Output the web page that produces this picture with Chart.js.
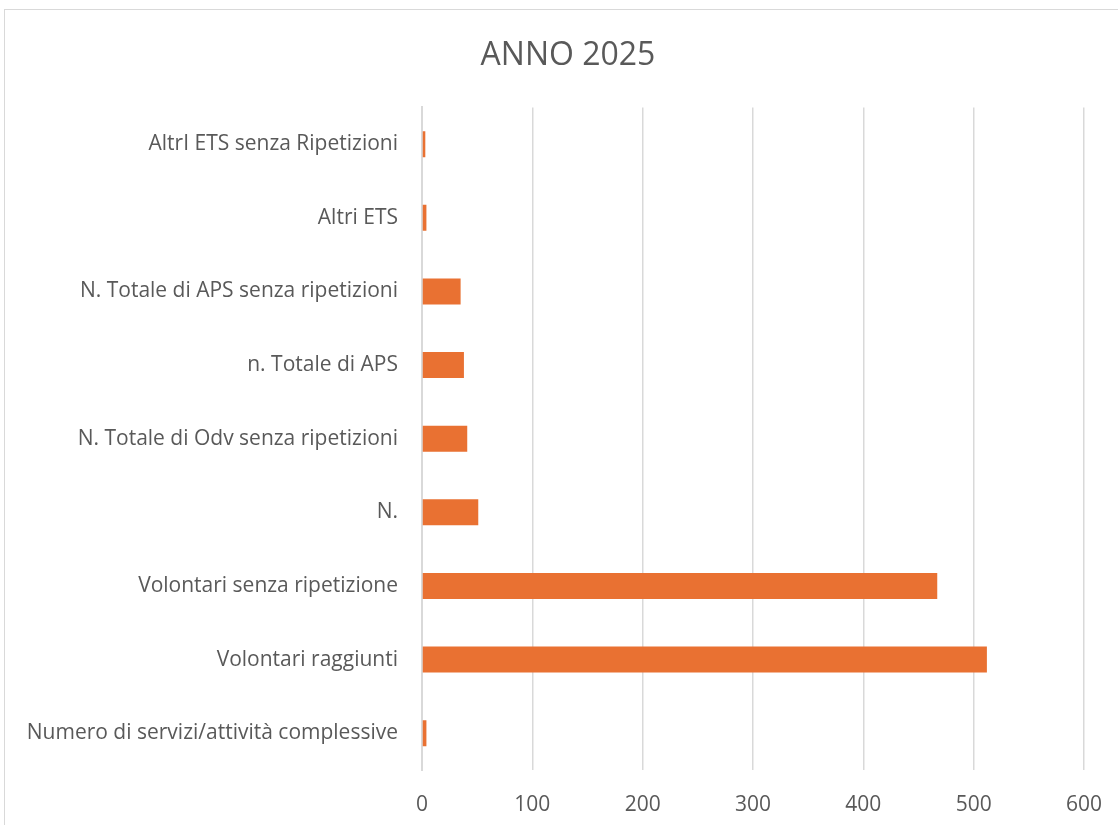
<!DOCTYPE html>
<html>
<head>
<meta charset="utf-8">
<script src="https://cdn.jsdelivr.net/npm/chart.js@4.4.1/dist/chart.umd.min.js"></script>
<style>
    html, body { margin: 0; padding: 0; background: #fff; overflow: hidden; width: 1118px; height: 825px; }
    #frame { position: absolute; left: 4px; top: 9px; width: 1200px; height: 900px; border: 1px solid #d9d9d9; }
    #wrap { position: absolute; left: 0; top: 0; width: 1124px; height: 825px; }
</style>
</head>
<body>
<div id="frame"></div>
<div id="wrap"><canvas id="chart" width="1124" height="825"></canvas></div>
<script>
const categories = [
    'AltrI ETS senza Ripetizioni',
    'Altri ETS',
    'N. Totale di APS senza ripetizioni',
    'n. Totale di APS',
    'N. Totale di Odv senza ripetizioni',
    'N.',
    'Volontari senza ripetizione',
    'Volontari raggiunti',
    'Numero di servizi/attività complessive'
];
const values = [3, 4, 35, 38, 41, 51, 467, 512, 4];
const xTicks = [0, 100, 200, 300, 400, 500, 600];

const grey = '#595959';
const font = 'Open Sans';

// the title in the picture is centred on the whole frame, not on the plot
const centreTitle = {
    id: 'centreTitle',
    afterLayout(chart) {
        const t = chart.titleBlock;
        t.left = 268;
        t.right = 868;
        t.width = 600;
    }
};

const ctx = document.getElementById('chart').getContext('2d');
// eslint-disable-next-line no-undef
new Chart(ctx, {
    type: 'bar',
    data: {
        labels: categories,
        datasets: [{
            data: values,
            backgroundColor: '#E97132',
            barPercentage: 0.354,
            categoryPercentage: 1
        }]
    },
    plugins: [centreTitle],
    options: {
        indexAxis: 'y',
        responsive: false,
        animation: false,
        layout: { padding: { left: 0, right: 30, top: 0, bottom: 0 } },
        plugins: {
            legend: { display: false },
            tooltip: { enabled: false },
            title: {
                display: true,
                text: 'ANNO 2025',
                color: grey,
                font: { family: font, size: 32, weight: 'normal' },
                padding: { top: 37, bottom: 32 }
            }
        },
        scales: {
            x: {
                min: 0,
                max: 600,
                afterBuildTicks: (scale) => { scale.ticks = xTicks.map(v => ({ value: v })); },
                afterFit: (scale) => { scale.height = 55; },
                grid: { color: '#d9d9d9', lineWidth: 1.5, drawTicks: false },
                border: { display: false },
                ticks: { color: grey, padding: 22, font: { family: font, size: 21 } }
            },
            y: {
                afterFit: (scale) => { scale.width = 422; },
                grid: { display: false },
                border: { display: true, color: '#d9d9d9', width: 2 },
                ticks: { color: grey, padding: 16, font: { family: font, size: 21 } }
            }
        }
    }
});
</script>
</body>
</html>
